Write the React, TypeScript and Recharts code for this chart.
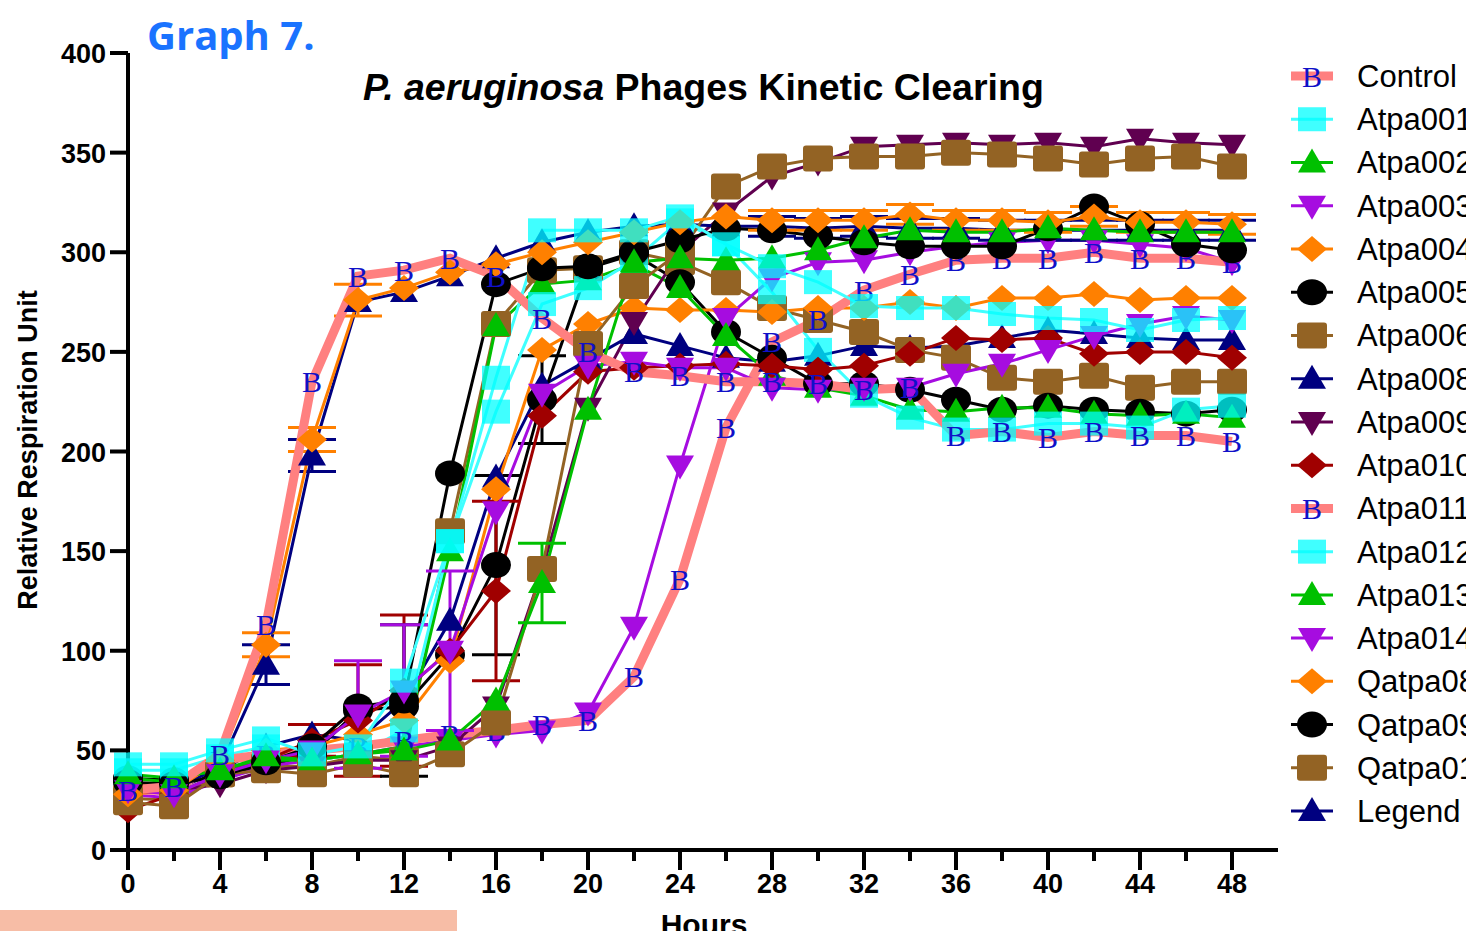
import React from 'react';
import { LineChart, Line, XAxis, YAxis, ErrorBar } from 'recharts';

const hours = [0, 2, 4, 6, 8, 10, 12, 14, 16, 18, 20, 22, 24, 26, 28, 30, 32, 34, 36, 38, 40, 42, 44, 46, 48];
const xTicks = hours;
const xLabelTicks = [0, 4, 8, 12, 16, 20, 24, 28, 32, 36, 40, 44, 48];
const yTicks = [0, 50, 100, 150, 200, 250, 300, 350, 400];

const control = [30, 32, 48, 113, 235, 288, 291, 297, 288, 267, 250, 240, 238, 235, 235, 234, 231, 232, 208, 210, 207, 210, 208, 208, 205];
const atpa001 = [43, 43, 50, 56, 48, 52, 85, 155, 237, 311, 311, 311, 318, 304, 293, 285, 273, 272, 272, 269, 267, 266, 261, 266, 267];
const atpa002 = [38, 36, 40, 47, 45, 48, 50, 55, 75, 134, 221, 295, 297, 296, 297, 301, 307, 311, 310, 310, 312, 311, 310, 310, 310];
const atpa003 = [30, 28, 38, 45, 50, 68, 80, 100, 170, 229, 243, 245, 242, 242, 232, 231, 232, 232, 239, 244, 251, 258, 264, 268, 266];
const atpa004 = [28, 30, 45, 103, 206, 276, 282, 290, 294, 300, 305, 310, 315, 318, 316, 316, 316, 319, 316, 316, 315, 318, 315, 315, 314];
const atpa005 = [34, 33, 37, 44, 52, 72, 75, 189, 284, 292, 293, 300, 306, 312, 311, 308, 305, 303, 303, 303, 312, 323, 314, 304, 301];
const atpa006 = [24, 22, 38, 40, 38, 43, 38, 48, 64, 141, 254, 283, 300, 333, 343, 347, 348, 348, 350, 349, 347, 344, 347, 348, 343];
const atpa008 = [30, 30, 42, 93, 198, 275, 280, 288, 297, 305, 310, 313, 314, 313, 313, 312, 313, 312, 312, 311, 311, 311, 311, 311, 311];
const atpa009 = [33, 30, 33, 40, 42, 45, 45, 52, 72, 140, 222, 265, 300, 320, 338, 345, 353, 354, 355, 354, 355, 353, 357, 355, 354];
const atpa010 = [20, 28, 38, 45, 55, 65, 80, 100, 130, 218, 240, 242, 243, 244, 243, 241, 243, 249, 257, 256, 257, 249, 250, 250, 247];
const atpa011 = [30, 30, 45, 48, 50, 52, 55, 58, 60, 63, 65, 87, 136, 212, 255, 266, 281, 289, 296, 297, 297, 300, 297, 297, 295];
const atpa012 = [40, 40, 47, 52, 45, 48, 60, 155, 220, 274, 282, 296, 316, 304, 280, 251, 228, 217, 211, 211, 214, 214, 212, 221, 223];
const atpa013 = [36, 34, 40, 45, 45, 48, 52, 150, 263, 284, 286, 294, 282, 258, 238, 232, 228, 221, 220, 222, 222, 219, 218, 219, 217];
const atpa014 = [28, 26, 35, 42, 45, 48, 52, 55, 58, 60, 69, 112, 193, 267, 287, 295, 296, 300, 303, 305, 306, 306, 304, 302, 295];
const qatpa08 = [32, 34, 42, 50, 52, 58, 65, 95, 181, 251, 264, 272, 271, 271, 270, 272, 272, 275, 272, 277, 277, 279, 276, 277, 277];
const qatpa09 = [36, 35, 37, 42, 48, 70, 72, 98, 143, 226, 292, 299, 285, 260, 247, 234, 234, 231, 226, 221, 223, 221, 220, 219, 221];
const qatpa01 = [26, 25, 38, 42, 42, 47, 45, 160, 264, 291, 292, 300, 295, 285, 272, 266, 260, 251, 247, 237, 235, 238, 232, 235, 235];
const legendSeries = [30, 30, 40, 52, 58, 55, 75, 115, 187, 233, 246, 259, 253, 247, 245, 248, 253, 252, 253, 257, 261, 259, 257, 256, 256];

const N = null;
const err004 = [N, N, N, 6, 6, 8, N, N, N, N, N, N, N, N, 5, 5, 5, 5, 5, 5, 5, 5, 5, 5, 5];
const err008 = [N, N, N, 10, 8, N, N, N, N, N, N, N, N, N, 5, 5, 5, 5, 5, 5, 5, 5, 5, 5, 5];
const err002 = [N, N, N, N, N, N, N, N, N, 20, N, N, N, N, N, N, N, N, N, N, N, N, N, N, N];
const err003 = [N, N, N, N, N, 27, 33, 40, N, N, N, N, N, N, N, N, N, N, N, N, N, N, N, N, N];
const err005 = [N, N, N, N, N, N, 38, N, N, N, N, N, N, N, N, N, N, N, N, N, N, N, N, N, N];
const err010 = [N, N, N, N, 8, 28, 38, N, 45, N, N, N, N, N, N, N, N, N, N, N, N, N, N, N, N];
const errQ09 = [N, N, N, N, N, N, N, N, 45, 22, N, N, N, N, N, N, N, N, N, N, N, N, N, N, N];

type Shape = 'B' | 'square' | 'tri' | 'triDown' | 'diamond' | 'circle' | 'rsquare';

interface SeriesDef {
  key: string;
  name: string;
  values: number[];
  line: string;
  fill: string;
  width: number;
  shape: Shape;
  err?: (number | null)[];
}

const PINK = '#FF8080';
const CYAN_LINE = '#40FFFF';
const CYAN_FILL = 'rgba(0,255,255,0.75)';
const GREEN = '#00C000';
const PURPLE = '#A60CE0';
const ORANGE = '#FF8000';
const BLACK = '#000000';
const BROWN = '#936324';
const NAVY = '#000080';
const DPURPLE = '#600050';
const DRED = '#A00000';

const series: SeriesDef[] = [
  { key: 'control', name: 'Control', values: control, line: PINK, fill: '#1010C8', width: 9, shape: 'B' },
  { key: 'atpa001', name: 'Atpa001', values: atpa001, line: CYAN_LINE, fill: CYAN_FILL, width: 3, shape: 'square' },
  { key: 'atpa002', name: 'Atpa002', values: atpa002, line: GREEN, fill: GREEN, width: 3, shape: 'tri', err: err002 },
  { key: 'atpa003', name: 'Atpa003', values: atpa003, line: PURPLE, fill: PURPLE, width: 3, shape: 'triDown', err: err003 },
  { key: 'atpa004', name: 'Atpa004', values: atpa004, line: ORANGE, fill: ORANGE, width: 3, shape: 'diamond', err: err004 },
  { key: 'atpa005', name: 'Atpa005', values: atpa005, line: BLACK, fill: BLACK, width: 3, shape: 'circle', err: err005 },
  { key: 'atpa006', name: 'Atpa006', values: atpa006, line: BROWN, fill: BROWN, width: 3, shape: 'rsquare' },
  { key: 'atpa008', name: 'Atpa008', values: atpa008, line: NAVY, fill: NAVY, width: 3, shape: 'tri', err: err008 },
  { key: 'atpa009', name: 'Atpa009', values: atpa009, line: DPURPLE, fill: DPURPLE, width: 3, shape: 'triDown' },
  { key: 'atpa010', name: 'Atpa010', values: atpa010, line: DRED, fill: DRED, width: 3, shape: 'diamond', err: err010 },
  { key: 'atpa011', name: 'Atpa011', values: atpa011, line: PINK, fill: '#1010C8', width: 9, shape: 'B' },
  { key: 'atpa012', name: 'Atpa012', values: atpa012, line: CYAN_LINE, fill: CYAN_FILL, width: 3, shape: 'square' },
  { key: 'atpa013', name: 'Atpa013', values: atpa013, line: GREEN, fill: GREEN, width: 3, shape: 'tri' },
  { key: 'atpa014', name: 'Atpa014', values: atpa014, line: PURPLE, fill: PURPLE, width: 3, shape: 'triDown' },
  { key: 'qatpa08', name: 'Qatpa08', values: qatpa08, line: ORANGE, fill: ORANGE, width: 3, shape: 'diamond' },
  { key: 'qatpa09', name: 'Qatpa09', values: qatpa09, line: BLACK, fill: BLACK, width: 3, shape: 'circle', err: errQ09 },
  { key: 'qatpa01', name: 'Qatpa01', values: qatpa01, line: BROWN, fill: BROWN, width: 3, shape: 'rsquare' },
  { key: 'legend', name: 'Legend', values: legendSeries, line: NAVY, fill: NAVY, width: 3, shape: 'tri' },
];

// drawn in reverse order so the first data sets end up on top
const drawOrder = [...series].reverse();

const rows = hours.map((h, i) => {
  const r: Record<string, number | null> = { h };
  series.forEach((s) => {
    r[s.key] = s.values[i];
    if (s.err) r[s.key + '_e'] = s.err[i];
  });
  return r;
});

function Marker({ shape, cx, cy, fill }: { shape: Shape; cx: number; cy: number; fill: string }) {
  switch (shape) {
    case 'B':
      return (
        <text x={cx} y={cy} textAnchor="middle" dominantBaseline="central" fontFamily="'Liberation Serif', 'DejaVu Serif', serif" fontSize={30} fill={fill}>
          B
        </text>
      );
    case 'square':
      return <rect x={cx - 14} y={cy - 12} width={28} height={24} fill={fill} />;
    case 'rsquare':
      return <rect x={cx - 15} y={cy - 13} width={30} height={26} rx={3} fill={fill} />;
    case 'tri':
      return <polygon points={`${cx},${cy - 14} ${cx + 14},${cy + 10} ${cx - 14},${cy + 10}`} fill={fill} />;
    case 'triDown':
      return <polygon points={`${cx - 14},${cy - 10} ${cx + 14},${cy - 10} ${cx},${cy + 14}`} fill={fill} />;
    case 'diamond':
      return <polygon points={`${cx},${cy - 13} ${cx + 15},${cy} ${cx},${cy + 13} ${cx - 15},${cy}`} fill={fill} />;
    case 'circle':
      return <ellipse cx={cx} cy={cy} rx={15} ry={13} fill={fill} />;
    default:
      return null;
  }
}

const makeDot = (s: SeriesDef) => (props: any) => {
  const { cx, cy, index } = props;
  if (cx == null || cy == null) return <g key={`${s.key}-${index}`} />;
  return (
    <g key={`${s.key}-${index}`}>
      <Marker shape={s.shape} cx={cx} cy={cy} fill={s.fill} />
    </g>
  );
};

const TICK_FONT = "'Liberation Sans', Arial, sans-serif";

const XTick = (props: any) => {
  const { x, y, payload } = props;
  const v = payload.value as number;
  const major = xLabelTicks.includes(v);
  return (
    <g>
      <line x1={x} y1={y} x2={x} y2={y + (major ? 20 : 11)} stroke="#000" strokeWidth={4} />
      {major && (
        <text x={x} y={y + 43} textAnchor="middle" fontFamily={TICK_FONT} fontWeight={700} fontSize={27} fill="#000">
          {v}
        </text>
      )}
    </g>
  );
};

const YTick = (props: any) => {
  const { x, y, payload } = props;
  return (
    <g>
      <line x1={x - 18} y1={y} x2={x} y2={y} stroke="#000" strokeWidth={4} />
      <text x={x - 22} y={y + 10} textAnchor="end" fontFamily={TICK_FONT} fontWeight={700} fontSize={27} fill="#000">
        {payload.value}
      </text>
    </g>
  );
};

function LegendBox() {
  const x0 = 1280;
  return (
    <g>
      {series.map((s, i) => {
        const y = 76 + i * 43.24;
        return (
          <g key={s.key}>
            <line x1={x0 + 11} y1={y} x2={x0 + 53} y2={y} stroke={s.line} strokeWidth={s.shape === 'B' ? 9 : 3} />
            <Marker shape={s.shape} cx={x0 + 32} cy={y} fill={s.fill} />
            <text x={1357} y={y + 11} fontFamily={TICK_FONT} fontSize={31} fill="#000">
              {s.name}
            </text>
          </g>
        );
      })}
    </g>
  );
}

export default function App() {
  return (
    <div style={{ position: 'absolute', left: 0, top: 0, width: 1466, height: 931, overflow: 'hidden', background: '#fff' }}>
      <LineChart width={1466} height={931} data={rows} margin={{ top: 53, right: 188, bottom: 41, left: 68 }}>
        <XAxis
          dataKey="h"
          type="number"
          domain={[0, 50]}
          ticks={xTicks}
          interval={0}
          height={40}
          tickSize={0}
          tickMargin={0}
          tick={<XTick />}
          axisLine={{ stroke: '#000', strokeWidth: 4 }}
          tickLine={false}
        />
        <YAxis
          type="number"
          domain={[0, 400]}
          ticks={yTicks}
          interval={0}
          width={60}
          tickSize={0}
          tickMargin={0}
          tick={<YTick />}
          axisLine={{ stroke: '#000', strokeWidth: 4 }}
          tickLine={false}
        />
        {drawOrder.map((s) => (
          <Line
            key={s.key}
            dataKey={s.key}
            name={s.name}
            type="linear"
            stroke={s.line}
            strokeWidth={s.width}
            dot={makeDot(s)}
            activeDot={false}
            isAnimationActive={false}
          >
            {s.err && <ErrorBar dataKey={s.key + '_e'} width={24} strokeWidth={3} stroke={s.fill === CYAN_FILL ? CYAN_LINE : s.fill} direction="y" />}
          </Line>
        ))}
      </LineChart>
      <svg width={1466} height={931} style={{ position: 'absolute', left: 0, top: 0, pointerEvents: 'none' }}>
        <text x={147} y={50} fontFamily="'Open Sans', sans-serif" fontWeight={700} fontSize={40} fill="#1A73FF">
          Graph 7.
        </text>
        <text x={363} y={100} fontFamily={TICK_FONT} fontWeight={700} fontSize={37.5} fill="#000">
          <tspan fontStyle="italic">P. aeruginosa</tspan>
          {' Phages Kinetic Clearing'}
        </text>
        <text transform="translate(37,450) rotate(-90)" textAnchor="middle" fontFamily={TICK_FONT} fontWeight={700} fontSize={27} fill="#000">
          Relative Respiration Unit
        </text>
        <text x={704} y={935} textAnchor="middle" fontFamily={TICK_FONT} fontWeight={700} fontSize={30} fill="#000">
          Hours
        </text>
        <rect x={0} y={910} width={457} height={21} fill="#F7BDA6" />
        <LegendBox />
      </svg>
    </div>
  );
}
